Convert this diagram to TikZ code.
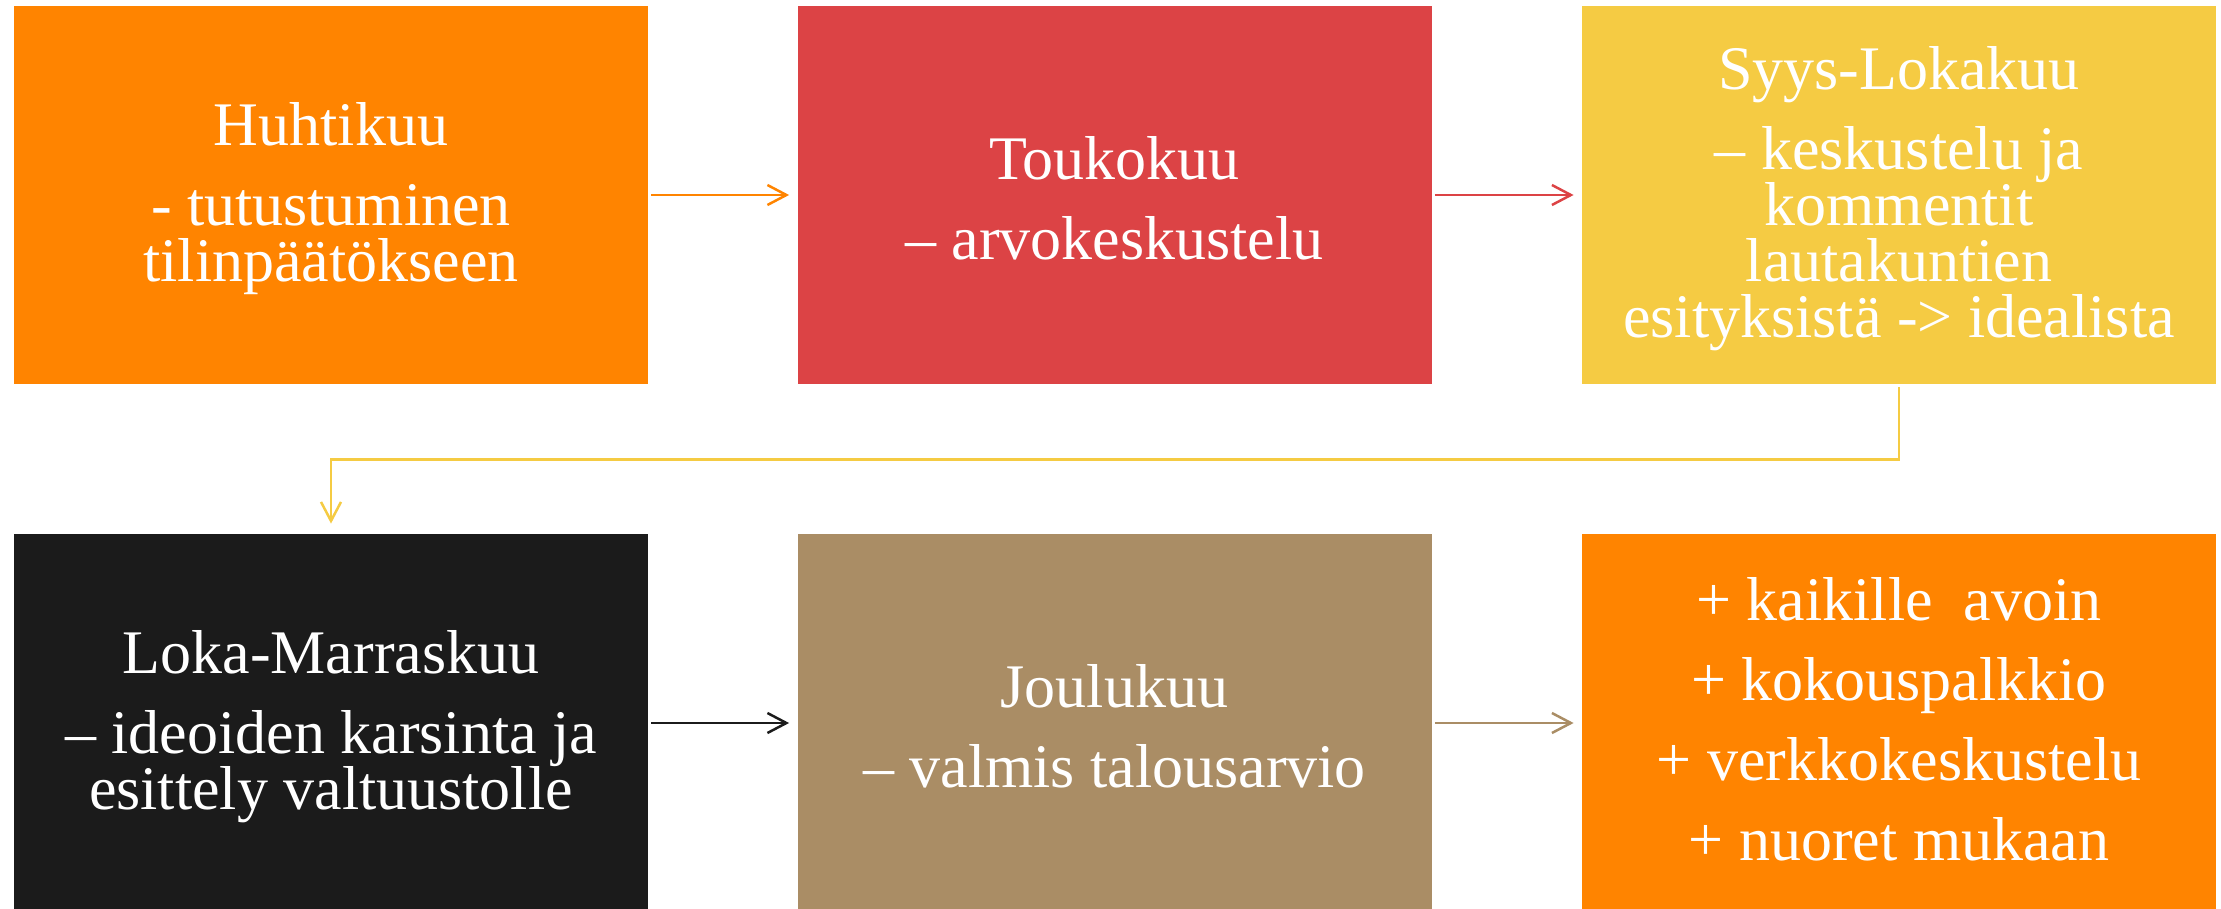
\documentclass[tikz,border=0pt]{standalone}
\usepackage{fontspec}
\setmainfont{Liberation Serif}
\usetikzlibrary{arrows.meta}
\definecolor{cOrange}{HTML}{FF8400}
\definecolor{cRed}{HTML}{DC4345}
\definecolor{cYellow}{HTML}{F5CB43}
\definecolor{cBlack}{HTML}{1B1B1B}
\definecolor{cTan}{HTML}{AA8D65}
\newcommand{\topnudge}{\rule{0pt}{25pt}}
\newcommand{\bottomnudge}{\rule[-4pt]{0pt}{4pt}}
\begin{document}
\setlength{\lineskiplimit}{-20pt}%
\begin{tikzpicture}[x=0.5pt,y=-0.5pt,
  box/.style={minimum width=317pt,minimum height=189pt,inner sep=0pt,align=center,text=white,draw=none,
    font=\fontsize{31}{28}\selectfont},
  conn/.style={line width=1.25pt,-{Straight Barb[length=9.5pt,width=10pt]},shorten <=1.5pt,shorten >=4pt}]
\useasboundingbox (0,0) rectangle (2221,909);
\clip (0,0) rectangle (2221,909);
\node[box,fill=cOrange] (b1) at (331,195) {\topnudge Huhtikuu\\[12pt]- tutustuminen\\tilinpäätökseen};
\node[box,fill=cRed] (b2) at (1114.5,195) {\topnudge Toukokuu\\[12pt]– arvokeskustelu};
\node[box,fill=cYellow] (b3) at (1899,195) {\topnudge Syys-Lokakuu\\[12pt]– keskustelu ja\\kommentit\\lautakuntien\\esityksistä -> idealista};
\node[box,fill=cBlack] (b4) at (331,723) {\topnudge Loka-Marraskuu\\[12pt]– ideoiden karsinta ja\\esittely valtuustolle};
\node[box,fill=cTan] (b5) at (1114.5,723) {\topnudge Joulukuu\\[12pt]– valmis talousarvio};
\node[box,fill=cOrange] (b6) at (1899,723) {+ kaikille~ avoin\\[12pt]+ kokouspalkkio\\[12pt]+ verkkokeskustelu\\[12pt]+ nuoret mukaan\bottomnudge};
\draw[conn,cOrange] (b1.east) -- (b2.west);
\draw[conn,cRed] (b2.east) -- (b3.west);
\draw[conn,cYellow,shorten >=5pt] (b3.south) -- ++(0,75) -| (b4.north);
\draw[conn,cBlack] (b4.east) -- (b5.west);
\draw[conn,cTan] (b5.east) -- (b6.west);
\end{tikzpicture}
\end{document}
